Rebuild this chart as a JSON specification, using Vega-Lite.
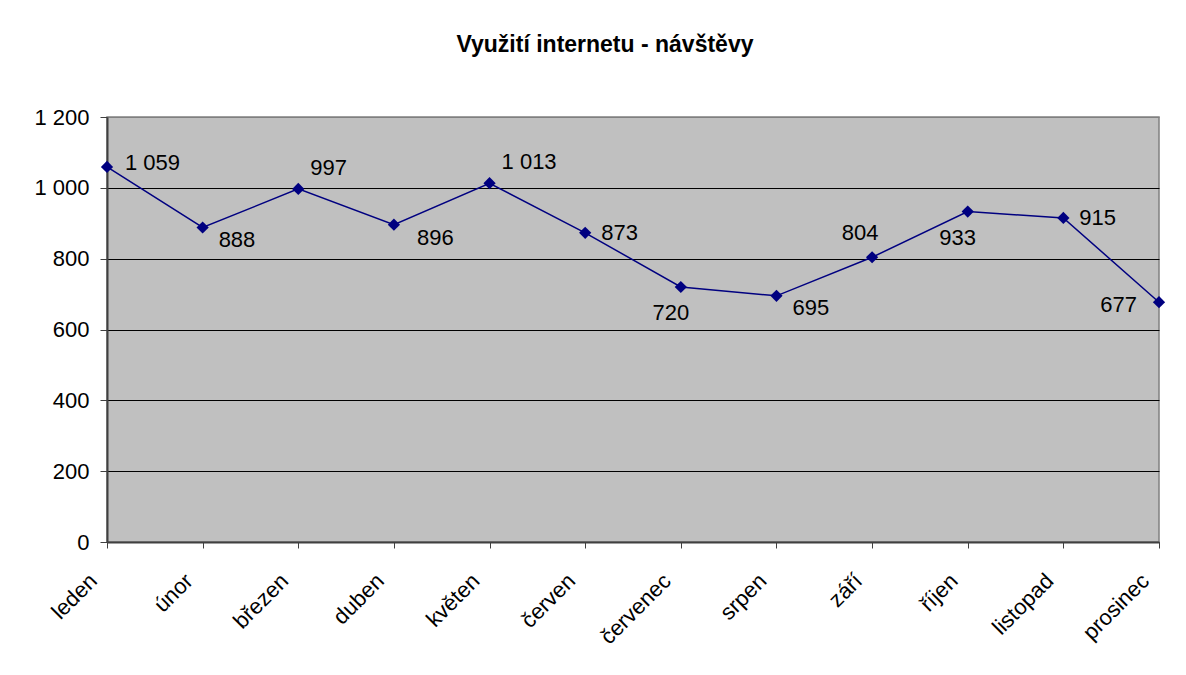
{
  "$schema": "https://vega.github.io/schema/vega-lite/v6.json",
  "autosize": "none",
  "width": 1052,
  "height": 425,
  "padding": {"left": 107, "top": 117, "right": 27, "bottom": 133},
  "background": "white",
  "title": {
    "text": "Využití internetu - návštěvy",
    "font": "Liberation Sans",
    "fontSize": 23,
    "fontWeight": "bold",
    "color": "black",
    "anchor": "middle",
    "dx": -28,
    "offset": 49
  },
  "config": {
    "locale": {"number": {"decimal": ",", "thousands": " ", "grouping": [3], "currency": ["", ""]}},
    "view": {"fill": "#C0C0C0", "stroke": "#808080", "strokeWidth": 1.5},
    "font": "Liberation Sans",
    "text": {"font": "Liberation Sans", "fontSize": 22, "color": "black"}
  },
  "data": {
    "values": [
      {"month": "leden", "visits": 1059},
      {"month": "únor", "visits": 888},
      {"month": "březen", "visits": 997},
      {"month": "duben", "visits": 896},
      {"month": "květen", "visits": 1013},
      {"month": "červen", "visits": 873},
      {"month": "červenec", "visits": 720},
      {"month": "srpen", "visits": 695},
      {"month": "září", "visits": 804},
      {"month": "říjen", "visits": 933},
      {"month": "listopad", "visits": 915},
      {"month": "prosinec", "visits": 677}
    ]
  },
  "encoding": {
    "x": {
      "field": "month",
      "type": "ordinal",
      "sort": null,
      "scale": {"type": "point", "padding": 0},
      "axis": {
        "title": null,
        "labelAngle": -45,
        "labelAlign": "right",
        "labelBaseline": "middle",
        "labelPadding": 29,
        "labelOffset": -14,
        "labelFont": "Liberation Sans",
        "labelFontSize": 22,
        "labelColor": "black",
        "tickSize": 6,
        "tickColor": "#404040",
        "domainColor": "#404040",
        "domainWidth": 2,
        "grid": false
      }
    },
    "y": {
      "field": "visits",
      "type": "quantitative",
      "scale": {"domain": [0, 1200], "nice": false},
      "axis": {
        "title": null,
        "values": [0, 200, 400, 600, 800, 1000, 1200],
        "format": ",d",
        "labelFont": "Liberation Sans",
        "labelFontSize": 22,
        "labelColor": "black",
        "labelPadding": 11,
        "tickSize": 7,
        "tickColor": "#404040",
        "domainColor": "#404040",
        "domainWidth": 2,
        "grid": true,
        "gridColor": {"condition": {"test": "datum.value === 1200", "value": "#808080"}, "value": "black"},
        "gridWidth": 1,
        "gridOpacity": 1
      }
    }
  },
  "layer": [
    {"mark": {"type": "line", "color": "#000080", "strokeWidth": 1.5}},
    {"mark": {"type": "point", "shape": "diamond", "filled": true, "color": "#000080", "size": 150, "opacity": 1}},
    {
      "transform": [{"filter": {"field": "month", "oneOf": ["leden"]}}],
      "mark": {"type": "text", "align": "left", "baseline": "middle", "dx": 18, "dy": -4},
      "encoding": {"text": {"field": "visits", "type": "quantitative", "format": ",d"}}
    },
    {
      "transform": [{"filter": {"field": "month", "oneOf": ["červen", "listopad"]}}],
      "mark": {"type": "text", "align": "left", "baseline": "middle", "dx": 16, "dy": 0},
      "encoding": {"text": {"field": "visits", "type": "quantitative", "format": ",d"}}
    },
    {
      "transform": [{"filter": {"field": "month", "oneOf": ["únor", "srpen"]}}],
      "mark": {"type": "text", "align": "left", "baseline": "middle", "dx": 16, "dy": 12},
      "encoding": {"text": {"field": "visits", "type": "quantitative", "format": ",d"}}
    },
    {
      "transform": [{"filter": {"field": "month", "oneOf": ["duben"]}}],
      "mark": {"type": "text", "align": "left", "baseline": "middle", "dx": 23, "dy": 13},
      "encoding": {"text": {"field": "visits", "type": "quantitative", "format": ",d"}}
    },
    {
      "transform": [{"filter": {"field": "month", "oneOf": ["březen", "květen"]}}],
      "mark": {"type": "text", "align": "left", "baseline": "middle", "dx": 12, "dy": -21},
      "encoding": {"text": {"field": "visits", "type": "quantitative", "format": ",d"}}
    },
    {
      "transform": [{"filter": {"field": "month", "oneOf": ["červenec", "říjen"]}}],
      "mark": {"type": "text", "align": "center", "baseline": "middle", "dx": -10, "dy": 26},
      "encoding": {"text": {"field": "visits", "type": "quantitative", "format": ",d"}}
    },
    {
      "transform": [{"filter": {"field": "month", "oneOf": ["září"]}}],
      "mark": {"type": "text", "align": "center", "baseline": "middle", "dx": -12, "dy": -24},
      "encoding": {"text": {"field": "visits", "type": "quantitative", "format": ",d"}}
    },
    {
      "transform": [{"filter": {"field": "month", "oneOf": ["prosinec"]}}],
      "mark": {"type": "text", "align": "right", "baseline": "middle", "dx": -22, "dy": 3},
      "encoding": {"text": {"field": "visits", "type": "quantitative", "format": ",d"}}
    }
  ]
}
